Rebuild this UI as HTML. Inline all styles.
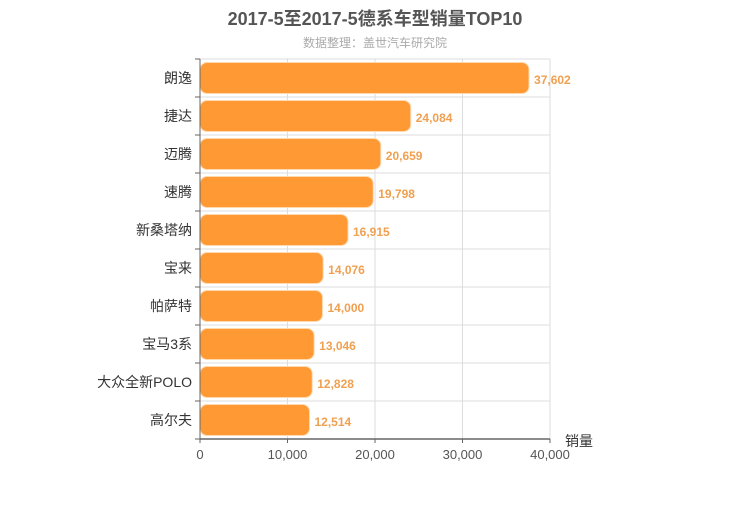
<!DOCTYPE html>
<html><head><meta charset="utf-8"><style>
body{margin:0;background:#fff;width:750px;height:500px;overflow:hidden}
text{font-family:"Liberation Sans","Noto Sans CJK SC",sans-serif}
</style></head><body>
<svg id="c" width="750" height="500">
<text x="375" y="25" text-anchor="middle" font-size="18" font-weight="bold" fill="#555">2017-5至2017-5德系车型销量TOP10</text>
<text x="375" y="47" text-anchor="middle" font-size="12" fill="#aaa">数据整理：盖世汽车研究院</text>
<text x="565" y="446" font-size="14" fill="#333">销量</text>
<g id="g"></g>
</svg>
<script>
const categories=["朗逸","捷达","迈腾","速腾","新桑塔纳","宝来","帕萨特","宝马3系","大众全新POLO","高尔夫"];
const values=[37602,24084,20659,19798,16915,14076,14000,13046,12828,12514];
const ticks=[0,10000,20000,30000,40000];
const L=200,R=550,T=59,B=439,max=40000;
const g=document.getElementById('g');const ns='http://www.w3.org/2000/svg';
const x=v=>L+(v/max)*(R-L);
const rh=(B-T)/categories.length;
function mk(t,a,txt){const e=document.createElementNS(ns,t);for(const k in a)e.setAttribute(k,a[k]);if(txt!=null)e.textContent=txt;g.appendChild(e);return e;}
ticks.forEach(t=>{
const l=mk('line',{x1:x(t),x2:x(t),y1:T,y2:B,stroke:'#ddd'});


const tx=mk('text',{x:x(t),y:B+20,'text-anchor':'middle','font-size':13,fill:'#555'},t.toLocaleString('en-US'));


mk('line',{x1:x(t),x2:x(t),y1:B,y2:B+4,stroke:'#666'});
});
for(let i=0;i<=categories.length;i++){
const y=T+i*rh;
if(i<categories.length){const h=mk('line',{x1:L,x2:R,y1:y,y2:y,stroke:'#ddd'});

}
mk('line',{x1:L-5,x2:L,y1:y,y2:y,stroke:'#666'});
}
categories.forEach((c,i)=>{
const cy=T+i*rh+rh/2;
const r=mk('rect',{x:L,y:cy-15.5,width:x(values[i])-L,height:31,rx:7,fill:'#ff9933',stroke:'#ffd9b0','stroke-width':1});


const v=mk('text',{x:x(values[i])+5,y:cy+6,'font-size':12,'font-weight':'bold',fill:'#f0a050'},values[i].toLocaleString('en-US'));


const lb=mk('text',{x:L-8,y:cy+5,'text-anchor':'end','font-size':14,fill:'#333'},c);


});
mk('line',{x1:L,x2:L,y1:T,y2:B,stroke:'#666'});
const ax=mk('line',{x1:L,x2:R,y1:B,y2:B,stroke:'#666','stroke-width':1.5});


</script>
</body></html>
